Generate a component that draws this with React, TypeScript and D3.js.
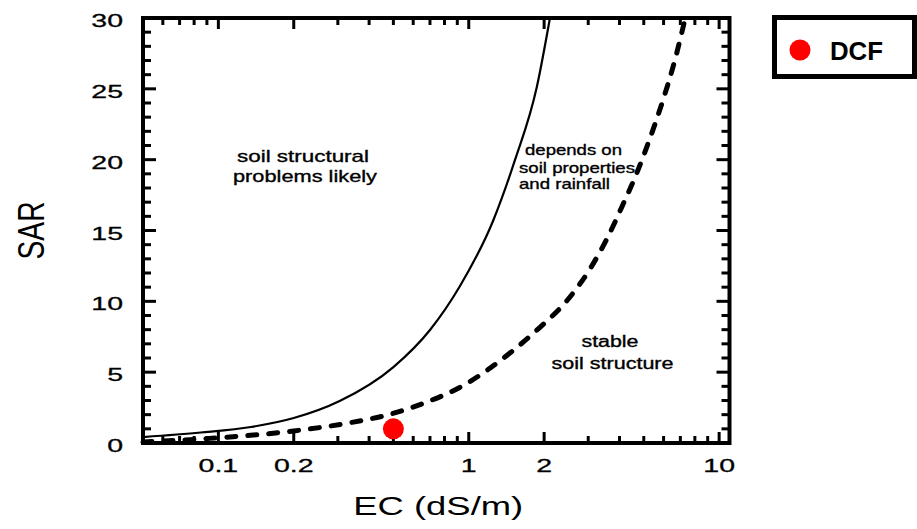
import React from "react";
import * as d3 from "d3";

// axis setup
const xDomain = [0.05, 11];
const yDomain = [0, 30];
const xMajorTicks = [0.1, 0.2, 1, 2, 10];
const xTickLabels = ["0.1", "0.2", "1", "2", "10"];
const xMinorTicks = [0.06, 0.07, 0.08, 0.09, 0.3, 0.4, 0.5, 0.6, 0.7, 0.8, 0.9, 3, 4, 5, 6, 7, 8, 9];
const yMajorTicks = [0, 5, 10, 15, 20, 25, 30];
const yTickLabels = ["0", "5", "10", "15", "20", "25", "30"];
const yMinorTicks = [1, 2, 3, 4, 6, 7, 8, 9, 11, 12, 13, 14, 16, 17, 18, 19, 21, 22, 23, 24, 26, 27, 28, 29];

// solid threshold line (EC, SAR)
const solidEC = [0.05, 0.085, 0.135, 0.2, 0.305, 0.5, 0.7, 0.92, 1.25, 1.53, 1.87, 2.11];
const solidSAR = [0.42, 0.74, 1.13, 1.76, 2.96, 5.36, 7.98, 11.05, 15.67, 19.98, 25.13, 30.0];

// dashed threshold line (EC, SAR)
const dashedEC = [0.05, 0.1, 0.2, 0.33, 0.49, 0.68, 0.92, 1.46, 1.92, 2.47, 3.04, 3.56, 4.12, 4.69, 5.28, 5.95, 6.64, 7.28];
const dashedSAR = [0.07, 0.37, 0.85, 1.41, 2.05, 2.89, 3.92, 6.35, 8.15, 10.06, 12.25, 14.4, 16.8, 19.06, 21.46, 24.14, 26.96, 29.8];

// sample point
const sampleName = "DCF";
const sampleEC = 0.5;
const sampleSAR = 1.0;

// region labels
const notes = [
  { t: "soil structural", x: 303, y: 162, w: 132, s: 17, a: "middle" },
  { t: "problems likely", x: 305, y: 182, w: 144, s: 17, a: "middle" },
  { t: "depends on", x: 525, y: 155, w: 97, s: 15, a: "start" },
  { t: "soil properties", x: 519, y: 172.5, w: 116, s: 15, a: "start" },
  { t: "and rainfall", x: 519, y: 188.5, w: 91, s: 15, a: "start" },
  { t: "stable", x: 610, y: 346.5, w: 57, s: 16, a: "middle" },
  { t: "soil structure", x: 612.5, y: 368.5, w: 122, s: 16, a: "middle" },
];

const FONT = "'Liberation Sans', Arial, Helvetica, sans-serif";

const App = () => {
  const width = 917;
  const height = 529;
  const m = { left: 143, right: 729.5, top: 18, bottom: 443 };

  const x = d3.scaleLog().domain(xDomain).range([m.left, m.right]);
  const y = d3.scaleLinear().domain(yDomain).range([m.bottom, m.top]);

  const line = d3.line<[number, number]>()
    .x(d => x(d[0]))
    .y(d => y(d[1]))
    .curve(d3.curveMonotoneX);

  const solidPath = line(d3.zip(solidEC, solidSAR) as [number, number][]) || "";
  const dashedPath = line(d3.zip(dashedEC, dashedSAR) as [number, number][]) || "";

  const xTicks = [
    ...xMajorTicks.map(v => ({ v, len: 11 })),
    ...xMinorTicks.map(v => ({ v, len: 7 })),
  ];
  const yTicks = [
    ...yMajorTicks.map(v => ({ v, len: 13 })),
    ...yMinorTicks.map(v => ({ v, len: 8 })),
  ];

  return (
    <svg width={width} height={height} style={{ position: "absolute", left: 0, top: 0, display: "block" }}>
      <rect width={width} height={height} fill="white" />

      {/* frame first, ticks on top of it */}
      <rect x={m.left} y={m.top} width={m.right - m.left} height={m.bottom - m.top}
        fill="none" stroke="#000" strokeWidth={4} />

      {/* inward ticks on all four sides */}
      {xTicks.map((d, i) => (
        <line key={`xb${i}`} x1={x(d.v)} x2={x(d.v)} y1={m.bottom} y2={m.bottom - d.len}
          stroke="#000" strokeWidth={3} />
      ))}
      {xTicks.map((d, i) => (
        <line key={`xt${i}`} x1={x(d.v)} x2={x(d.v)} y1={m.top} y2={m.top + d.len}
          stroke="#000" strokeWidth={3} />
      ))}
      {yTicks.map((d, i) => (
        <line key={`yl${i}`} x1={m.left} x2={m.left + d.len} y1={y(d.v)} y2={y(d.v)}
          stroke="#000" strokeWidth={3} />
      ))}
      {yTicks.map((d, i) => (
        <line key={`yr${i}`} x1={m.right} x2={m.right - d.len} y1={y(d.v)} y2={y(d.v)}
          stroke="#000" strokeWidth={3} />
      ))}

      {/* threshold curves */}
      <path d={solidPath} fill="none" stroke="#000" strokeWidth={2.2} />
      <path d={dashedPath} fill="none" stroke="#000" strokeWidth={5} strokeLinecap="round" strokeDasharray="9 12" />

      {/* tick labels, wide type */}
      {xMajorTicks.map((v, i) => (
        <text key={`xl${i}`} transform={`translate(${x(v)},472) scale(1.5,1)`} textAnchor="middle"
          stroke="#000" strokeWidth={0.3} style={{ fontFamily: FONT, fontSize: "19px" }}>
          {xTickLabels[i]}
        </text>
      ))}
      {yMajorTicks.map((v, i) => (
        <text key={`ylab${i}`} transform={`translate(123,${y(v) + 9}) scale(1.5,1)`} textAnchor="end"
          stroke="#000" strokeWidth={0.3} style={{ fontFamily: FONT, fontSize: "19px" }}>
          {yTickLabels[i]}
        </text>
      ))}

      {/* axis titles */}
      <text x={(m.left + m.right) / 2 + 2} y={515} textAnchor="middle" textLength={170}
        lengthAdjust="spacingAndGlyphs" style={{ fontFamily: FONT, fontSize: "25px" }}>
        EC (dS/m)
      </text>
      <text transform={`translate(44,${(m.top + m.bottom) / 2}) rotate(-90) scale(1,1.45)`}
        textAnchor="middle" textLength={58} lengthAdjust="spacingAndGlyphs"
        style={{ fontFamily: FONT, fontSize: "25px" }}>
        SAR
      </text>

      {/* region annotations */}
      {notes.map((n, i) => (
        <text key={`n${i}`} x={n.x} y={n.y} textAnchor={n.a} textLength={n.w} lengthAdjust="spacingAndGlyphs"
          stroke="#000" strokeWidth={0.35} style={{ fontFamily: FONT, fontSize: `${n.s}px` }}>
          {n.t}
        </text>
      ))}

      {/* sample point */}
      <circle cx={x(sampleEC)} cy={y(sampleSAR)} r={10.5} fill="#ff0000" />

      {/* legend */}
      <rect x={774.5} y={17.5} width={140} height={59} fill="white" stroke="#000" strokeWidth={5} />
      <circle cx={800} cy={50} r={10.5} fill="#ff0000" />
      <text x={830} y={59.5} textLength={53} lengthAdjust="spacingAndGlyphs"
        style={{ fontFamily: FONT, fontSize: "26px", fontWeight: "bold" }}>
        {sampleName}
      </text>
    </svg>
  );
};

export default App;
